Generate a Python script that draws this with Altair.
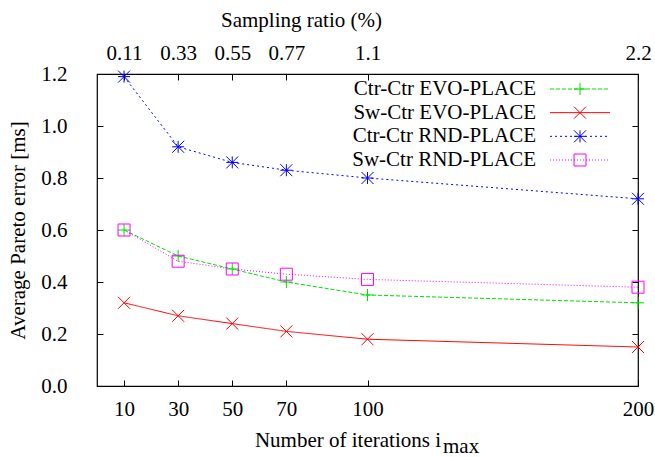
import altair as alt
import pandas as pd

# ---- data ----
iterations = [10, 30, 50, 70, 100, 200]
sampling_labels = ["0.11", "0.33", "0.55", "0.77", "1.1", "2.2"]
series_names = ["Ctr-Ctr EVO-PLACE", "Sw-Ctr EVO-PLACE", "Ctr-Ctr RND-PLACE", "Sw-Ctr RND-PLACE"]
ctr_evo = [0.60, 0.50, 0.45, 0.40, 0.35, 0.32]
sw_evo = [0.32, 0.27, 0.24, 0.21, 0.18, 0.15]
ctr_rnd = [1.19, 0.92, 0.86, 0.83, 0.80, 0.72]
sw_rnd = [0.60, 0.48, 0.45, 0.43, 0.41, 0.38]
y_ticks = [0.0, 0.2, 0.4, 0.6, 0.8, 1.0, 1.2]

# ---- styles ----
colors = ["#00e000", "#ff0000", "#0000ff", "#ff00ff"]
dashes = [[4, 2], [1, 0], [2, 3], [1, 2]]
PLUS = "M-1,0L1,0M0,-1L0,1"
XSYM = "M-1,-1L1,1M-1,1L1,-1"
STAR = "M-1,0L1,0M0,-1L0,1M-1,-1L1,1M-1,1L1,-1"
shapes = [PLUS, XSYM, STAR, "square"]
FONT = "'Liberation Serif', 'Times New Roman', Times, serif"
FS = 21

rows = []
for name, vals in zip(series_names, [ctr_evo, sw_evo, ctr_rnd, sw_rnd]):
    for it, v in zip(iterations, vals):
        rows.append({"series": name, "iter": it, "value": v})
df = pd.DataFrame(rows)
legend_df = pd.DataFrame({"series": series_names})

W, H = 541, 312

x_scale = alt.Scale(domain=[0, 200], nice=False, zero=False)
y_scale = alt.Scale(domain=[0, 1.2], nice=False)
color = alt.Color("series:N", scale=alt.Scale(domain=series_names, range=colors), legend=None)
dash = alt.StrokeDash("series:N", scale=alt.Scale(domain=series_names, range=dashes), legend=None)
shape = alt.Shape("series:N", scale=alt.Scale(domain=series_names, range=shapes), legend=None)

top_expr = ""
for it, lab in zip(iterations, sampling_labels):
    top_expr += f"datum.value == {it} ? '{lab}' : "
top_expr += "''"

common_axis = dict(labelFont=FONT, titleFont=FONT, labelFontSize=FS, titleFontSize=FS,
                   labelColor="black", titleColor="black", tickColor="black",
                   titleFontWeight="normal", grid=False, domain=False,
                   labelFlush=False, labelOverlap=False, tickSize=6, offset=-6)

lines = alt.Chart(df).mark_line(strokeWidth=1).encode(
    x=alt.X("iter:Q", scale=x_scale,
            axis=alt.Axis(orient="bottom", values=iterations, labelPadding=12, title=None,
                          **common_axis)),
    y=alt.Y("value:Q", scale=y_scale,
            axis=alt.Axis(orient="left", values=y_ticks, format=".1f", labelPadding=30,
                          title="Average Pareto error [ms]", titlePadding=12, **common_axis)),
    color=color,
    strokeDash=dash,
    detail="series:N",
)

points = alt.Chart(df).mark_point(filled=False, strokeWidth=1, size=144, opacity=1).encode(
    x=alt.X("iter:Q", scale=x_scale,
            axis=alt.Axis(orient="top", values=iterations, labelPadding=11,
                          title="Sampling ratio (%)", titlePadding=12, titleX=204,
                          titleAlign="center", titleAnchor="start",
                          labelExpr=top_expr, **common_axis)),
    y=alt.Y("value:Q", scale=y_scale,
            axis=alt.Axis(orient="right", values=y_ticks, labels=False, title=None,
                          **common_axis)),
    color=color,
    shape=shape,
)

main = alt.layer(lines, points).resolve_axis(x="independent", y="independent")

leg_y = alt.Y("series:N", scale=alt.Scale(type="point", domain=series_names, range=[15, 86], padding=0), axis=None)

leg_rule = alt.Chart(legend_df).mark_rule(strokeWidth=1).encode(
    x=alt.value(453), x2=alt.value(513), y=leg_y, color=color, strokeDash=dash)
leg_point = alt.Chart(legend_df).mark_point(filled=False, strokeWidth=1, size=144, opacity=1).encode(
    x=alt.value(483), y=leg_y, color=color, shape=shape)
leg_text = alt.Chart(legend_df).mark_text(align="right", baseline="middle", font=FONT, fontSize=FS, color="black").encode(
    x=alt.value(439), y=leg_y, text="series:N")

title_main = alt.Chart(alt.Data(values=[{}])).mark_text(
    align="right", baseline="alphabetic", font=FONT, fontSize=FS, color="black"
).encode(x=alt.value(344), y=alt.value(373), text=alt.value("Number of iterations i"))
title_sub = alt.Chart(alt.Data(values=[{}])).mark_text(
    align="left", baseline="alphabetic", font=FONT, fontSize=FS, color="black"
).encode(x=alt.value(346), y=alt.value(379), text=alt.value("max"))

legend = alt.layer(leg_rule, leg_point, leg_text, title_main, title_sub)

chart = alt.layer(main, legend).resolve_scale(y="independent").properties(
    width=W, height=H,
    autosize=alt.AutoSizeParams(type="none"),
    padding={"left": 97, "top": 74, "right": 17, "bottom": 71},
    background="white",
).configure(
    font=FONT
).configure_view(
    stroke="black", strokeWidth=1.2
).configure_axis(
    labelFont=FONT, titleFont=FONT, labelFontSize=FS, titleFontSize=FS,
    labelColor="black", titleColor="black", tickColor="black", tickWidth=1,
    titleFontWeight="normal",
).configure_text(font=FONT)

chart.save("out.html", embed_options={"renderer": "svg", "actions": False})
